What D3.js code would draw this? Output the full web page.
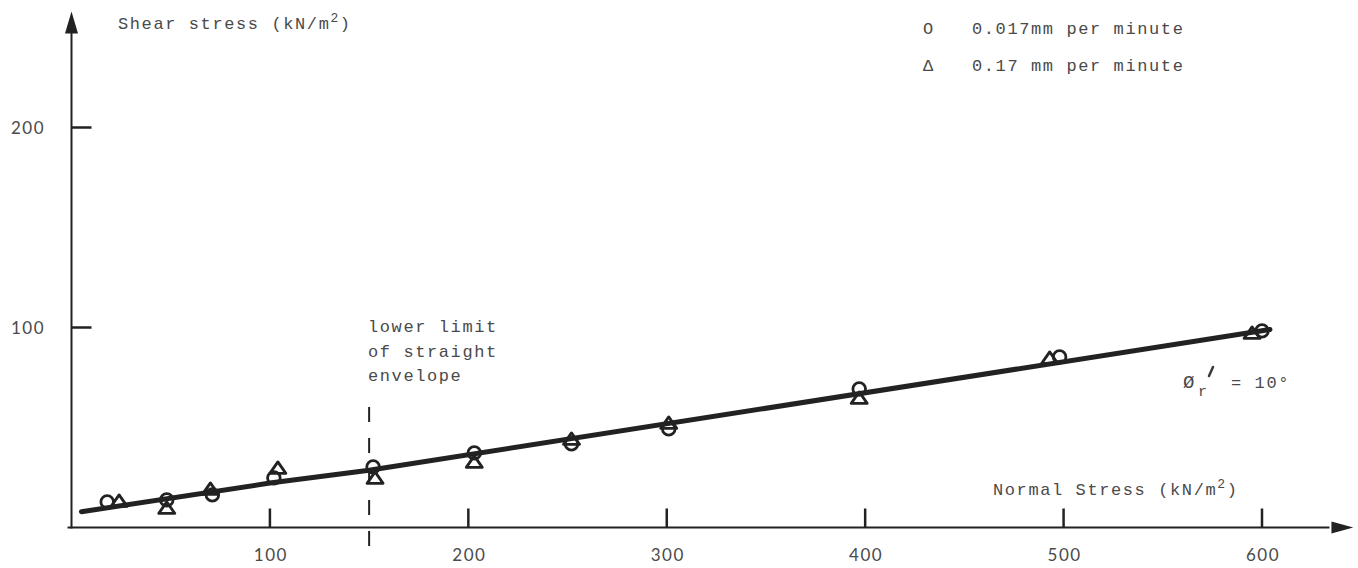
<!DOCTYPE html>
<html>
<head>
<meta charset="utf-8">
<script src="https://cdn.jsdelivr.net/npm/d3@7"></script>
<style>
  body { margin: 0; background: #fff; }
  svg { display: block; }
  .mono { font-family: "Liberation Mono", "Courier New", monospace; font-size: 17px; letter-spacing: 1.6px; fill: #4a4a4a; }
  .tick { font-family: Lato, "DejaVu Sans", sans-serif; font-weight: 400; font-size: 17px; letter-spacing: 1.5px; fill: #4a4a4a; }
</style>
</head>
<body>
<script>
// data (normal stress, shear stress in kN/m2)
const slowSigma = [18, 48, 71, 102, 152, 203, 252, 301, 397, 498, 600];   // circles, 0.017 mm/min
const slowTau   = [12.8, 13.8, 16.3, 24.8, 30.3, 37.3, 41.8, 49.3, 69.3, 85.3, 98.3];
const fastSigma = [24, 48, 70, 104, 153, 203, 252, 301, 397, 493, 595];   // triangles, 0.17 mm/min
const fastTau   = [13.3, 9.8, 19.3, 29.8, 24.8, 32.8, 44.3, 52.3, 64.8, 84.8, 97.3];
const envSigma  = [5, 100, 150, 604];
const envTau    = [7.9, 22.2, 28.6, 99];
const xTicks = [100, 200, 300, 400, 500, 600];
const yTicks = [100, 200];
const limitSigma = 150;

const W = 1358, H = 568;
const svg = d3.select("body").append("svg").attr("width", W).attr("height", H);

const x = d3.scaleLinear().domain([0, 600]).range([71.5, 1262]);
const y = d3.scaleLinear().domain([0, 200]).range([527.5, 127.5]);

const ink = "#222";

// axes
svg.append("line")
  .attr("x1", x(-2)).attr("x2", x(634)).attr("y1", y(0)).attr("y2", y(0))
  .attr("stroke", ink).attr("stroke-width", 2);
svg.append("line")
  .attr("x1", x(0)).attr("x2", x(0)).attr("y1", y(-0.5)).attr("y2", y(250))
  .attr("stroke", ink).attr("stroke-width", 2);

// arrow heads
svg.append("path")
  .attr("d", `M${x(0)},${y(258)} L${x(0) - 6.5},${y(247)} L${x(0) + 6.5},${y(247)} Z`)
  .attr("fill", ink);
svg.append("path")
  .attr("d", `M${x(646)},${y(0)} L${x(635)},${y(0) - 6} L${x(635)},${y(0) + 6} Z`)
  .attr("fill", ink);

// ticks
svg.selectAll(".xt").data(xTicks).join("line")
  .attr("x1", d => x(d)).attr("x2", d => x(d))
  .attr("y1", y(0)).attr("y2", y(0) - 19)
  .attr("stroke", ink).attr("stroke-width", 2.5);
svg.selectAll(".yt").data(yTicks).join("line")
  .attr("x1", x(0)).attr("x2", x(0) + 20)
  .attr("y1", d => y(d)).attr("y2", d => y(d))
  .attr("stroke", ink).attr("stroke-width", 2.5);

svg.selectAll(".xl").data(xTicks).join("text")
  .attr("class", "tick")
  .attr("x", d => x(d) + 1).attr("y", 561)
  .attr("text-anchor", "middle")
  .text(d => d);
svg.selectAll(".yl").data(yTicks).join("text")
  .attr("class", "tick")
  .attr("x", 45).attr("y", d => y(d) + 6)
  .attr("text-anchor", "end")
  .text(d => d);

// lower limit of straight envelope
svg.append("line")
  .attr("x1", x(limitSigma)).attr("x2", x(limitSigma))
  .attr("y1", 407).attr("y2", 561)
  .attr("stroke", ink).attr("stroke-width", 2)
  .attr("stroke-dasharray", "15,16");

// failure envelope
const env = envSigma.map((s, i) => [s, envTau[i]]);
svg.append("path")
  .datum(env)
  .attr("d", d3.line().x(d => x(d[0])).y(d => y(d[1])))
  .attr("fill", "none").attr("stroke", ink)
  .attr("stroke-width", 5).attr("stroke-linecap", "round");

// points
const slow = slowSigma.map((s, i) => ({ s, t: slowTau[i] }));
const fast = fastSigma.map((s, i) => ({ s, t: fastTau[i] }));

svg.selectAll(".tri").data(fast).join("path")
  .attr("d", d => {
    const cx = x(d.s), cy = y(d.t);
    return `M${cx},${cy - 6} L${cx + 8},${cy + 5.5} L${cx - 8},${cy + 5.5} Z`;
  })
  .attr("fill", "none").attr("stroke", ink)
  .attr("stroke-width", 2.8).attr("stroke-linejoin", "round");

svg.selectAll(".circ").data(slow).join("circle")
  .attr("cx", d => x(d.s)).attr("cy", d => y(d.t))
  .attr("r", 6.3)
  .attr("fill", "none").attr("stroke", ink).attr("stroke-width", 2.8);

// axis titles
const yt = svg.append("text").attr("class", "mono").attr("x", 118).attr("y", 29);
yt.append("tspan").text("Shear stress (kN/m");
yt.append("tspan").attr("dy", -7).style("font-size", "13px").text("2");
yt.append("tspan").attr("dy", 7).text(")");

const xt = svg.append("text").attr("class", "mono").attr("x", 993).attr("y", 495);
xt.append("tspan").text("Normal Stress (kN/m");
xt.append("tspan").attr("dy", -7).style("font-size", "13px").text("2");
xt.append("tspan").attr("dy", 7).text(")");

// legend
svg.append("text").attr("class", "mono").attr("x", 923).attr("y", 34).text("O");
svg.append("text").attr("class", "mono").attr("x", 972).attr("y", 34).text("0.017mm per minute");
svg.append("text").attr("class", "mono").attr("x", 923).attr("y", 71).text("\u0394");
svg.append("text").attr("class", "mono").attr("x", 972).attr("y", 71).text("0.17 mm per minute");

// note
["lower limit", "of straight", "envelope"].forEach((s, i) => {
  svg.append("text").attr("class", "mono")
    .attr("x", 368).attr("y", 332 + i * 24.5).text(s);
});

// friction angle
svg.append("text").attr("class", "mono").attr("x", 1183).attr("y", 388).style("font-size", "19px").style("letter-spacing", "0").text("\u00d8");
svg.append("text").attr("class", "mono").attr("x", 1198).attr("y", 396).style("font-size", "15px").text("r");
svg.append("path")
  .attr("d", "M1213,367 L1209,376")
  .attr("stroke", "#3a3a3a").attr("stroke-width", 2.5).attr("stroke-linecap", "round");
svg.append("text").attr("class", "mono").attr("x", 1231).attr("y", 388).text("= 10\u00b0");
</script>
</body>
</html>
